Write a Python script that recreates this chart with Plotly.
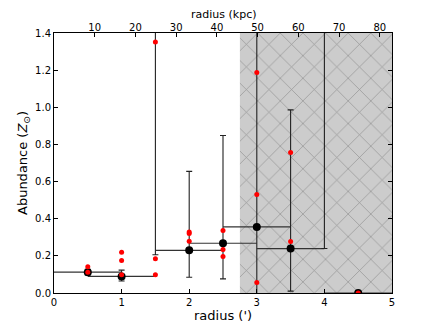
import plotly.graph_objects as go

# annulus centres (arcmin) and fitted abundances
radius = [0.5, 1.0, 1.5, 2.0, 2.5, 3.0, 3.5, 4.0, 4.5]
abund = [0.112, 0.089, 1.60, 0.230, 0.268, 0.356, 0.239, 1.60, 0.0]
half_width = [0.5, 0.5, 0.5, 0.5, 0.5, 0.5, 0.5, 0.5, 0.5]
err_lo = [0.015, 0.024, 1.394, 0.145, 0.192, 0.45, 0.229, 1.36, 0.0]
err_hi = [0.015, 0.034, 0.30, 0.425, 0.58, 1.20, 0.747, 0.30, 0.0]

# individual measurements (red dots)
red_r = [0.5, 0.5, 1.0, 1.0, 1.0, 1.5, 1.5, 1.5, 2.0, 2.0, 2.0,
         2.5, 2.5, 2.5, 3.0, 3.0, 3.0, 3.5, 3.5, 4.5]
red_z = [0.141, 0.112, 0.219, 0.175, 0.098, 1.352, 0.184, 0.098, 0.329, 0.320, 0.279,
         0.336, 0.234, 0.196, 1.187, 0.531, 0.056, 0.757, 0.277, 0.0]

# excluded region and axis limits
excl_start = 2.75
r_max = 5.0
z_max = 1.4
kpc_per_arcmin = 16.6
kpc_ticks = [10, 20, 30, 40, 50, 60, 70, 80]

font = "DejaVu Sans"

fig = go.Figure()

fig.add_trace(go.Scatter(
    x=[excl_start, r_max, r_max, excl_start, excl_start],
    y=[0, 0, z_max, z_max, 0],
    mode="lines",
    fill="toself",
    fillcolor="#cccccc",
    fillpattern=dict(shape="x", bgcolor="#cccccc", fgcolor="#555555",
                     size=16, solidity=0.08),
    line=dict(width=0),
    hoverinfo="skip",
    showlegend=False,
))

fig.add_trace(go.Scatter(
    x=radius,
    y=abund,
    mode="markers",
    marker=dict(color="black", size=8),
    error_x=dict(type="data", array=half_width, color="#333333",
                 thickness=1.2, width=0),
    error_y=dict(type="data", array=err_hi, arrayminus=err_lo,
                 color="#222222", thickness=1.1, width=3),
    showlegend=False,
))

fig.add_trace(go.Scatter(
    x=red_r,
    y=red_z,
    mode="markers",
    marker=dict(color="red", size=5),
    showlegend=False,
))

# invisible trace to carry the kpc axis
fig.add_trace(go.Scatter(
    x=[0, r_max * kpc_per_arcmin], y=[0, 0], xaxis="x2",
    mode="markers", marker=dict(opacity=0), hoverinfo="skip", showlegend=False,
))

# page body has an 8px margin, so the figure is a little smaller than the window
fig.update_layout(
    width=428, height=319,
    margin=dict(l=46, r=44, t=25, b=33.5),
    plot_bgcolor="white",
    paper_bgcolor="white",
    font=dict(family=font, size=10, color="black"),
    xaxis=dict(
        range=[0, r_max], tickvals=[0, 1, 2, 3, 4, 5],
        ticks="inside", ticklen=4, tickcolor="black",
        showline=True, linecolor="black", linewidth=1,
        showgrid=False, zeroline=False, automargin=False,
    ),
    xaxis2=dict(
        overlaying="x", side="top",
        range=[0, r_max * kpc_per_arcmin], tickvals=kpc_ticks,
        ticks="inside", ticklen=4, tickcolor="black", ticklabelstandoff=-3,
        showline=True, linecolor="black", linewidth=1,
        showgrid=False, zeroline=False, automargin=False,
    ),
    yaxis=dict(
        range=[0, z_max], tickvals=[0, 0.2, 0.4, 0.6, 0.8, 1.0, 1.2, 1.4],
        tickformat=".1f",
        ticks="inside", ticklen=4, tickcolor="black",
        showline=True, linecolor="black", linewidth=1, mirror="ticks",
        showgrid=False, zeroline=False, automargin=False,
    ),
    annotations=[
        dict(text="radius (')", xref="paper", yref="paper", x=0.5, y=0,
             yanchor="middle", yshift=-22.5, showarrow=False, font=dict(size=13)),
        dict(text="radius (kpc)", xref="paper", yref="paper", x=0.5, y=1,
             yanchor="top", yshift=26, borderpad=0, showarrow=False,
             font=dict(size=11)),
        dict(text="Abundance (<i>Z</i><sub>⊙</sub>)", xref="paper", yref="paper",
             x=0, y=0.5, xanchor="center", xshift=-31, textangle=-90,
             showarrow=False, font=dict(size=13)),
    ],
)

fig.write_html("out.html")
